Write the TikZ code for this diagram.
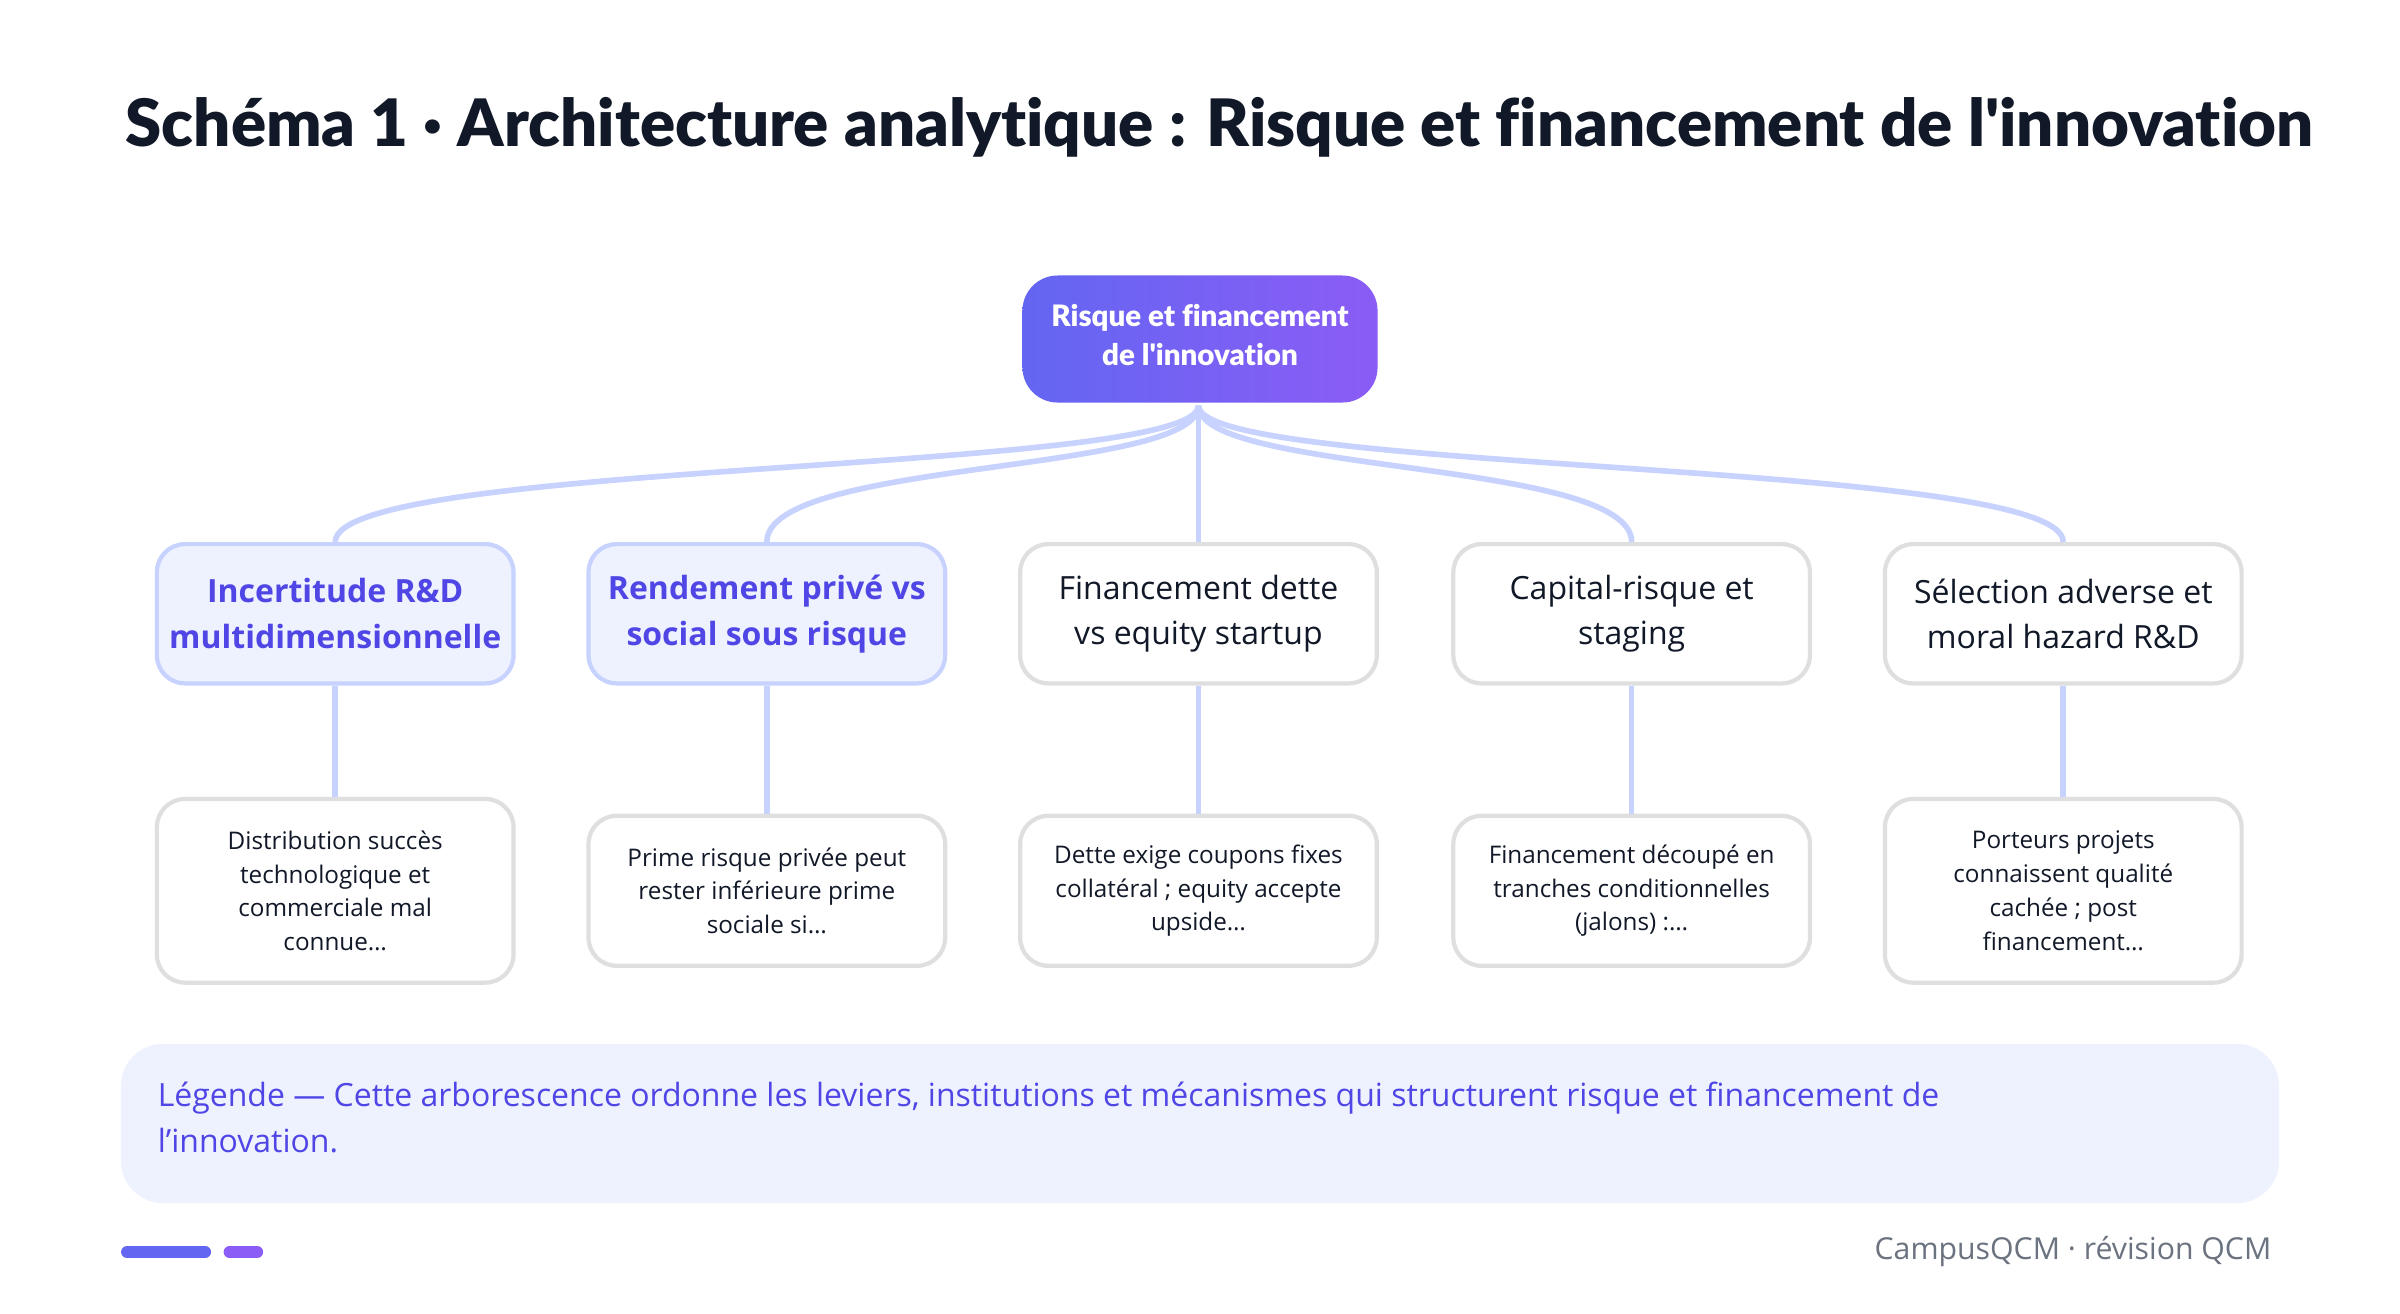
\documentclass[tikz,border=0pt]{standalone}
\usepackage{fontspec}
\setmainfont{Open Sans}
\newfontfamily\tf{Lato Black}[Ligatures={NoCommon}]
\begin{document}
\begin{tikzpicture}[x=0.015306cm,y=-0.015306cm,
 l1/.style={draw=gray!25,line width=1.2pt,rounded corners=8pt,minimum width=233*0.015306cm,align=center,font=\fontsize{9.1}{13}\selectfont,text=dark},
 hl/.style={l1,fill=lav,draw=lavb,text=ind,font=\fontsize{9.1}{13}\selectfont\bfseries},
 l2/.style={draw=gray!25,line width=1.2pt,rounded corners=8pt,minimum width=233*0.015306cm,align=center,font=\fontsize{6.9}{9.6}\selectfont,text=dark},
 con/.style={draw=lavb,line width=1.6pt}]
\definecolor{dark}{HTML}{111827}
\definecolor{lav}{HTML}{EEF2FF}
\definecolor{lavb}{HTML}{C7D2FE}
\definecolor{ind}{HTML}{4F46E5}
\definecolor{c1}{HTML}{6366F1}
\definecolor{c2}{HTML}{8B5CF6}
\definecolor{gr}{HTML}{6B7280}
\useasboundingbox[fill=white] (0,0) rectangle (1568,858);
\node[anchor=west,text=dark,font=\fontsize{18.6}{20}\selectfont\tf] (title) at (74,83) {Schéma 1 · Architecture analytique : Risque et financement de l{\char"0027}innovation};
\shade[left color=c1,right color=c2,rounded corners=10pt] (668,180) rectangle (900,263);
\node[text=white,align=center,font=\fontsize{8.4}{11}\selectfont\tf] (root) at (784,219) {Risque et financement\\de l{\char"0027}innovation};
\coordinate (rb) at (783,265);
\foreach \i/\x/\t/\s/\y/\h/\d in {
 1/219/{Incertitude R\&D\\multidimensionnelle}/hl/582/120/{Distribution succès\\technologique et\\commerciale mal\\connue…},
 2/501/{Rendement privé vs\\social sous risque}/hl/582/98/{Prime risque privée peut\\rester inférieure prime\\sociale si…},
 3/783/{Financement dette\\vs equity startup}/l1/582/98/{Dette exige coupons fixes\\collatéral ; equity accepte\\upside…},
 4/1066/{Capital-risque et\\staging}/l1/582/98/{Financement découpé en\\tranches conditionnelles\\(jalons) :…},
 5/1348/{Sélection adverse et\\moral hazard R\&D}/l1/582/120/{Porteurs projets\\connaissent qualité\\cachée ; post\\financement…}}{
 \node[\s,minimum height=91*0.015306cm] (a\i) at (\x,401) {\t};
 \node[l2,minimum height=\h*0.015306cm] (b\i) at (\x,\y) {\d};
 \draw[con] (a\i.south) -- (b\i.north);
 \draw[con] (rb) .. controls (783,310) and (\x,300) .. (a\i.north);
}
\fill[lav,rounded corners=12pt] (79,682) rectangle (1489,786);
\node[anchor=north west,text=ind,align=left,font=\fontsize{9.1}{13}\selectfont] (leg) at (95,699) {Légende — Cette arborescence ordonne les leviers, institutions et mécanismes qui structurent risque et financement de\\l{\char"0027}innovation.};
\draw[c1,line width=3.4pt,line cap=round] (83,818) -- (134,818);
\draw[c2,line width=3.4pt,line cap=round] (150,818) -- (168,818);
\node[anchor=east,text=gr,font=\fontsize{8.6}{10}\selectfont] (foot) at (1492,818) {CampusQCM · révision QCM};
\end{tikzpicture}
\end{document}
